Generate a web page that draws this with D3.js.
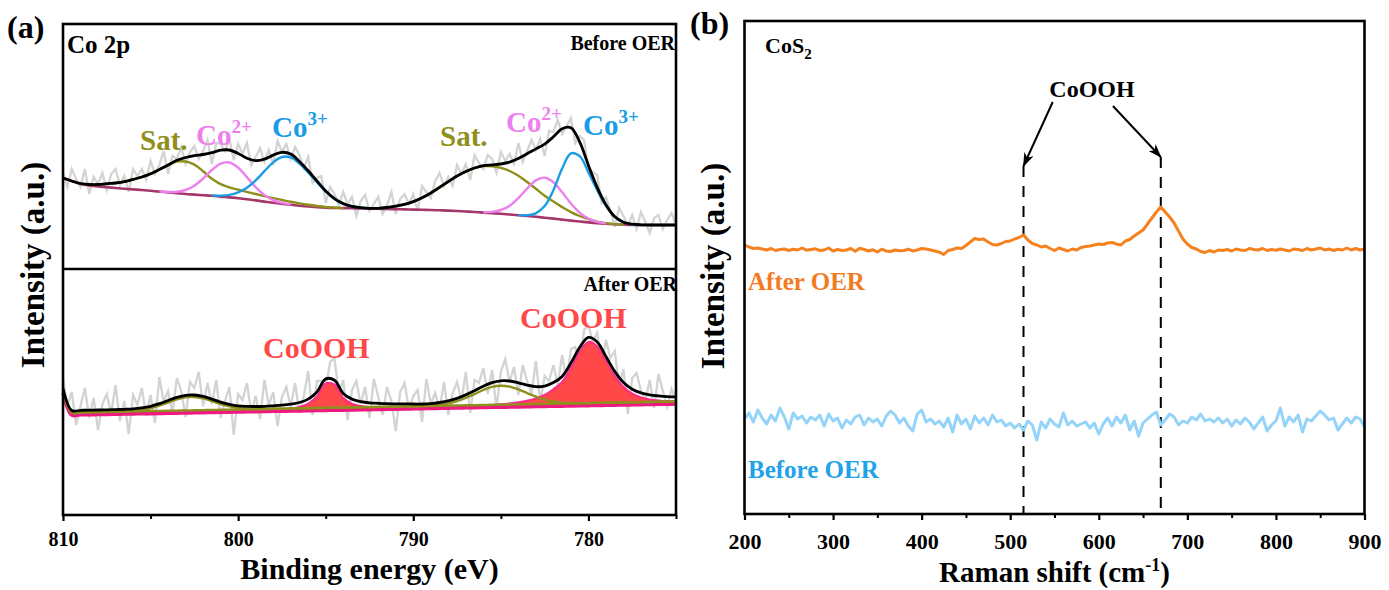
<!DOCTYPE html>
<html>
<head>
<meta charset="utf-8">
<script src="https://cdn.jsdelivr.net/npm/d3@7"></script>
<style>
  body { margin: 0; background: #fff; }
  svg { display: block; }
  text { font-family: "Liberation Serif", "Times New Roman", serif; font-weight: bold; }
</style>
</head>
<body>
<svg id="chart" width="1389" height="590"></svg>
<script>
// ---------------- XPS Co 2p (panel a) ----------------
// fitted curves sampled every 0.5 eV from 810 eV down to 775 eV
const xpsStart = 810, xpsStep = 0.5;
const xpsMajorTicks = [810, 800, 790, 780];
const xpsMinorTicks = [805, 795, 785, 775];

// Before OER: background, fitted envelope and components (height above background)
const beforeBackground = [92, 89, 86, 84.5, 83.5, 82.8, 82, 81.3, 80.6, 80,
  79.2, 78.4, 77.6, 76.8, 76, 75.4, 74.8, 74.2, 73.4, 72.6,
  71.8, 70.8, 69.6, 68.4, 67.2, 66.2, 65.2, 64.3, 63.5, 62.9,
  62.4, 62.1, 61.9, 61.7, 61.6, 61.4, 61.2, 61, 60.8, 60.6,
  60.4, 60.2, 60, 59.7, 59.4, 59, 58.5, 58, 57.4, 56.8,
  56.2, 55.5, 54.8, 54, 53.2, 52.3, 51.4, 50.4, 49.4, 48.5,
  47.6, 46.8, 46.2, 45.7, 45.3, 45.1, 45, 45, 45, 45, 45];
const beforeEnvelope = [92, 89, 86.5, 85.5, 85.5, 86.3, 87, 88.3, 90.6, 93,
  96.2, 100.5, 105, 109.7, 112.5, 114.3, 115.5, 117.3, 119.8, 120,
  116.6, 111.7, 109.3, 110.9, 114.9, 117.7, 116, 108.6, 99.2, 89,
  79, 71.4, 66.4, 63.7, 62.4, 61.7, 61.7, 62.5, 63.8, 65.6,
  68.4, 72.2, 77, 82.7, 88.4, 94, 98.5, 102, 104.3, 105.1,
  106, 107.8, 111.5, 116.2, 121.1, 125.9, 133.2, 141.3, 142.3, 128.1,
  104.6, 82.7, 65.3, 53.4, 47.8, 45.8, 45.2, 45, 45, 45, 45];
const beforeSat1From = 809;
const beforeSat1 = [0.5, 1, 2, 3.5, 5, 7, 10, 13, 17, 22, 27, 31.5, 32.5, 30, 24, 17,
  12.5, 10, 8.5, 7.3, 6.4, 5.5, 4.6, 3.8, 3, 2.3, 1.7, 1.1, 0.6, 0.3, 0];
const beforeCo2aFrom = 804.5;
const beforeCo2a = [0.1, 0.4, 1.4, 4, 8.9, 16.7, 25.8, 32.9, 34.9, 30.5, 22.1, 13.3, 6.6, 2.7, 0.9, 0.3];
const beforeCo3aFrom = 801.5;
const beforeCo3a = [0.3, 1, 2.5, 5.8, 11.5, 20, 30.4, 40.4, 46.8, 47.5, 42, 34, 25, 16, 9, 4.5, 2, 0.8, 0.3];
const beforeSat2From = 792;
const beforeSat2 = [0.5, 1.5, 3, 5, 8, 12, 17, 23, 29, 35, 40, 44, 46.5, 47, 46, 43.5, 39.5,
  34, 28, 22, 17, 12.5, 8.5, 5.5, 3.2, 1.6, 0.7, 0.2, 0];
const beforeCo2bFrom = 786;
const beforeCo2b = [0.4, 1.3, 3.8, 8.8, 17.1, 27.4, 36.4, 40, 36.4, 27.4, 17.1, 8.8, 3.8, 1.3, 0.4];
const beforeCo3bFrom = 784;
const beforeCo3b = [0.1, 0.8, 3.5, 11.6, 28.4, 51, 67.3, 65.3, 50, 33, 18, 7.5, 2.5, 0.7, 0.2];

// After OER
const afterBackground = [124, 102.0, 102.2, 102.3, 102.5, 102.6, 102.8, 103.0, 103.1, 103.3,
  103.4, 103.6, 103.8, 103.9, 104.1, 104.2, 104.4, 104.6, 104.7, 104.9,
  105.0, 105.2, 105.3, 105.5, 105.7, 105.8, 106.0, 106.1, 106.3, 106.5,
  106.6, 106.8, 106.9, 107.1, 107.3, 107.4, 107.6, 107.7, 107.9, 108.1,
  108.2, 108.4, 108.5, 108.7, 108.9, 109.0, 109.2, 109.3, 109.5, 109.7,
  109.8, 110.0, 110.1, 110.3, 110.5, 110.6, 110.8, 110.9, 111.1, 111.2,
  111.4, 111.6, 111.7, 111.9, 112.0, 112.2, 112.4, 112.5, 112.7, 112.8, 113.0];
const afterEnvelope = [128.5, 106.5, 106.7, 106.8, 107.0, 107.1, 107.4, 107.7, 108.1, 109.1,
  110.7, 113.3, 116.5, 119.6, 121.7, 122.0, 120.6, 117.9, 114.9, 112.6,
  111.1, 110.6, 110.5, 110.7, 111.2, 111.8, 112.8, 114.5, 117.9, 125.0,
  138.1, 136.8, 123.5, 117.9, 115.4, 114.2, 113.7, 113.3, 113.1, 113.2,
  113.0, 113.0, 113.4, 114.5, 116.1, 118.6, 122.1, 126.3, 130.8, 134.4,
  136.2, 136.0, 134.2, 131.9, 130.3, 130.9, 134.5, 140.6, 153.9, 169.5,
  179.6, 175.1, 160.5, 145.6, 134.5, 127.8, 124.1, 122.1, 121.1, 120.4, 120.1];
const afterSat1 = [2.5, 2.5, 2.5, 2.5, 2.5, 2.5, 2.5, 2.7, 3.0, 3.8,
  5.3, 7.7, 10.7, 13.7, 15.6, 15.8, 14.2, 11.3, 8.2, 5.7,
  4.1, 3.1, 2.7, 2.5, 2.5, 2.5, 2.5, 2.5, 2.5, 2.5,
  2.5, 2.5, 2.5, 2.5, 2.5, 2.5, 2.5, 2.5, 2.5, 2.5,
  2.5, 2.5, 2.5, 2.5, 2.5, 2.5, 2.5, 2.5, 2.5, 2.5,
  2.5, 2.5, 2.5, 2.5, 2.5, 2.5, 2.5, 2.5, 2.5, 2.5,
  2.5, 2.5, 2.5, 2.5, 2.5, 2.5, 2.5, 2.5, 2.5, 2.5, 2.5];
const afterSat2 = [2.5, 2.5, 2.5, 2.5, 2.5, 2.5, 2.5, 2.5, 2.5, 2.5,
  2.5, 2.5, 2.5, 2.5, 2.5, 2.5, 2.5, 2.5, 2.5, 2.5,
  2.5, 2.5, 2.5, 2.5, 2.5, 2.5, 2.5, 2.5, 2.5, 2.5,
  2.5, 2.5, 2.5, 2.5, 2.5, 2.5, 2.5, 2.5, 2.5, 2.5,
  2.5, 2.6, 2.9, 3.5, 4.7, 6.8, 9.8, 13.6, 17.5, 20.4,
  21.5, 20.4, 17.5, 13.6, 9.8, 6.8, 4.7, 3.5, 2.9, 2.6,
  2.5, 2.5, 2.5, 2.5, 2.5, 2.5, 2.5, 2.5, 2.5, 2.5, 2.5];
const afterCoOOH1From = 799.5;
const afterCoOOH1 = [0.3, 0.5, 0.7, 1.0, 1.5, 2.3, 3.9, 7.1, 14, 27, 25.5, 12.1, 6.3, 3.6, 2.3, 1.6, 1.1, 0.7, 0.5, 0.3];
const afterCoOOH2From = 788.5;
const afterCoOOH2 = [0.3, 0.5, 0.8, 1.1, 1.4, 1.8, 2.3, 2.9, 3.6, 4.6, 6, 8, 11.5, 17,
  24.2, 37.9, 53.7, 63.7, 59, 44.3, 29.2, 18, 11.1, 7.2, 5.1, 3.9, 3.1, 2.6];

// measured spectra, every 0.25 eV from 810 eV
const rawStep = 0.25;
const beforeRaw = [97, 83, 101, 91, 83, 101, 76, 93, 86, 97,
  80, 96, 101, 85, 94, 78, 101, 94, 101, 90,
  109, 96, 105, 119, 96, 114, 111, 123, 106, 118,
  124, 111, 119, 130, 106, 127, 126, 119, 131, 110,
  126, 116, 127, 105, 113, 122, 108, 120, 105, 129,
  118, 126, 111, 123, 115, 102, 113, 87, 92, 94,
  67, 83, 76, 65, 78, 66, 73, 54, 69, 75,
  59, 66, 73, 56, 65, 78, 56, 71, 76, 66,
  76, 59, 84, 78, 72, 89, 97, 84, 93, 84,
  105, 96, 106, 90, 115, 107, 101, 115, 111, 97,
  118, 109, 116, 106, 127, 108, 119, 130, 120, 131,
  114, 139, 138, 150, 136, 144, 152, 127, 134, 130,
  102, 98, 95, 67, 73, 60, 43, 62, 54, 45,
  55, 41, 58, 48, 37, 52, 55, 41, 50, 57, 45];
const afterRaw = [139, 111, 125, 92, 111, 129, 99, 119, 87, 113,
  123, 103, 132, 96, 116, 83, 122, 112, 129, 101,
  122, 94, 140, 115, 126, 104, 139, 126, 100, 135,
  129, 145, 111, 134, 113, 137, 99, 116, 130, 82,
  123, 117, 134, 104, 121, 98, 137, 112, 125, 91,
  120, 130, 110, 134, 104, 121, 146, 102, 136, 136,
  129, 155, 159, 124, 137, 97, 127, 136, 113, 130,
  99, 138, 120, 102, 130, 116, 86, 125, 134, 108,
  121, 127, 95, 138, 113, 124, 107, 135, 102, 124,
  135, 116, 145, 104, 137, 134, 149, 123, 147, 109,
  145, 158, 135, 150, 122, 152, 136, 123, 156, 115,
  141, 136, 152, 132, 162, 136, 168, 170, 148, 187,
  192, 175, 184, 151, 177, 159, 166, 131, 148, 103,
  139, 144, 126, 116, 137, 109, 143, 126, 110, 128, 116];

// ---------------- Raman (panel b) ----------------
const ramanStart = 200, ramanStep = 5;
const ramanMajorTicks = [200, 300, 400, 500, 600, 700, 800, 900];
const ramanMinorTicks = [250, 350, 450, 550, 650, 750, 850];
const ramanAfter = [269, 267, 265.5, 266, 265, 264, 265.5, 263.5, 264.5, 265,
  263.5, 264.8, 264, 266, 263.8, 264.5, 265.2, 263.5, 264, 266,
  263, 264.5, 263.5, 264, 265.5, 262.8, 265.8, 264.5, 263, 264.2,
  262, 264.8, 263, 262.5, 264, 263.2, 263.5, 264.8, 263, 264,
  265.5, 265, 264, 263, 261.8, 259.5, 263.5, 264.5, 266, 265.5,
  268.5, 272, 275.5, 274.5, 275, 272, 269.5, 269, 270.5, 272.5,
  273, 275, 276.5, 279, 274, 270.5, 269, 267, 268, 265.5,
  263.5, 266, 264.5, 263, 265, 264, 266.5, 267.5, 268, 269,
  270, 269.5, 271, 271.5, 270, 269, 273, 274.5, 278, 281,
  284, 290, 296, 302, 307, 302, 297, 291, 283, 275,
  270, 266.5, 265, 262.5, 261.5, 263.5, 262, 264, 263.5, 264.5,
  263, 265, 264, 263.5, 265.5, 264.5, 264, 265.5, 263.5, 264.5,
  263.8, 265, 264, 263, 265, 264.5, 263.5, 265.5, 264, 265,
  266, 264, 265, 263.5, 264.8, 264, 266, 264, 265.5, 264, 265];
const ramanBefore = [95, 101, 92, 104, 96, 90, 99, 93, 106, 97,
  85, 101, 95, 98, 91, 97, 94, 99, 88, 100,
  93, 96, 86, 94, 90, 97, 99, 89, 96, 92,
  95, 88, 98, 103, 99, 91, 96, 88, 83, 100,
  104, 92, 95, 90, 93, 87, 96, 82, 99, 90,
  95, 85, 98, 91, 96, 89, 99, 92, 94, 88,
  91, 86, 90, 84, 93, 89, 74, 92, 86, 95,
  90, 87, 101, 89, 93, 88, 90, 92, 86, 91,
  80, 90, 96, 88, 97, 91, 99, 84, 93, 78,
  91, 95, 99, 102, 89, 94, 100, 97, 89, 93,
  91, 97, 94, 100, 93, 95, 92, 96, 91, 95,
  88, 94, 90, 96, 92, 85, 91, 97, 83, 89,
  93, 106, 88, 97, 92, 99, 82, 95, 93, 98,
  103, 99, 94, 96, 84, 90, 96, 91, 97, 95, 87];
// CoOOH band positions and the arrows pointing at them (Raman shift, intensity)
const coohBands = [515, 670];
const arrowTails = [[548, 412], [616, 408]];
const arrowTips = [[515, 348], [670, 357]];

// ---------------- drawing ----------------
const svg = d3.select("#chart");
const C = {
  raw: "#d3d3d3", env: "#000", bgTop: "#a5376c", bgBottom: "#ee1a82",
  sat: "#8f8f1c", co2: "#ee80ee", co3: "#1a9de6", cooh: "#ff4848", coohEdge: "#ff2a8a",
  after: "#f5821f", afterText: "#f47a1f", before: "#94d4f8", beforeText: "#22a2e8"
};

const defs = svg.append("defs");
defs.append("marker").attr("id", "arrowHead")
  .attr("viewBox", "0 0 14 10").attr("refX", 13).attr("refY", 5)
  .attr("markerWidth", 14).attr("markerHeight", 10)
  .attr("markerUnits", "userSpaceOnUse").attr("orient", "auto")
  .append("path").attr("d", "M0,0 L14,5 L0,10 L4,5 Z").attr("fill", "#000");

// --- panel (a) scales ---
const xA = d3.scaleLinear().domain([810, 775]).range([63, 676]);
const yTop = d3.scaleLinear().domain([1, 246]).range([269, 24]);
const yBot = d3.scaleLinear().domain([2, 247]).range([515, 270]);
const smooth = d3.curveCatmullRom.alpha(0.5);

const gridE = (i, start, step) => start - step * i;
const bgIndex = e => Math.round((xpsStart - e) / xpsStep);

function fullCurve(values) { return values.map((v, i) => [gridE(i, xpsStart, xpsStep), v]); }
function onBackground(values, from, bg) {
  return values.map((v, i) => { const e = gridE(i, from, xpsStep); const b = bg[bgIndex(e)]; return [e, b + v, b]; });
}
function rawCurve(values) { return values.map((v, i) => [gridE(i, xpsStart, rawStep), v]); }

const gA = svg.append("g");
const lineTop = d3.line().x(d => xA(d[0])).y(d => yTop(d[1])).curve(smooth);
const lineBot = d3.line().x(d => xA(d[0])).y(d => yBot(d[1])).curve(smooth);
const rawTop = d3.line().x(d => xA(d[0])).y(d => yTop(d[1]));
const rawBot = d3.line().x(d => xA(d[0])).y(d => yBot(d[1]));

// upper: before OER
gA.append("path").attr("d", rawTop(rawCurve(beforeRaw))).attr("fill", "none").attr("stroke", C.raw).attr("stroke-width", 2.3);
gA.append("path").attr("d", lineTop(fullCurve(beforeBackground))).attr("fill", "none").attr("stroke", C.bgTop).attr("stroke-width", 2.6);
[[beforeSat1, beforeSat1From, C.sat], [beforeCo2a, beforeCo2aFrom, C.co2], [beforeCo3a, beforeCo3aFrom, C.co3],
 [beforeSat2, beforeSat2From, C.sat], [beforeCo2b, beforeCo2bFrom, C.co2], [beforeCo3b, beforeCo3bFrom, C.co3]]
  .forEach(([vals, from, col]) => {
    gA.append("path").attr("d", lineTop(onBackground(vals, from, beforeBackground)))
      .attr("fill", "none").attr("stroke", col).attr("stroke-width", 2.4);
  });
gA.append("path").attr("d", lineTop(fullCurve(beforeEnvelope))).attr("fill", "none").attr("stroke", C.env).attr("stroke-width", 2.8);

// lower: after OER
gA.append("path").attr("d", rawBot(rawCurve(afterRaw))).attr("fill", "none").attr("stroke", C.raw).attr("stroke-width", 2.3);
const areaBot = d3.area().x(d => xA(d[0])).y0(d => yBot(d[2])).y1(d => yBot(d[1])).curve(smooth);
[[afterCoOOH1, afterCoOOH1From], [afterCoOOH2, afterCoOOH2From]].forEach(([vals, from]) => {
  const pts = onBackground(vals, from, afterBackground);
  gA.append("path").attr("d", areaBot(pts)).attr("fill", C.cooh).attr("stroke", "none");
  gA.append("path").attr("d", lineBot(pts)).attr("fill", "none").attr("stroke", C.coohEdge).attr("stroke-width", 2);
});
gA.append("path").attr("d", lineBot(fullCurve(afterBackground))).attr("fill", "none").attr("stroke", C.bgBottom).attr("stroke-width", 3.6);
[afterSat1, afterSat2].forEach(vals => {
  gA.append("path").attr("d", lineBot(onBackground(vals, xpsStart, afterBackground)))
    .attr("fill", "none").attr("stroke", C.sat).attr("stroke-width", 2.4);
});
gA.append("path").attr("d", lineBot(fullCurve(afterEnvelope))).attr("fill", "none").attr("stroke", C.env).attr("stroke-width", 2.8);

// frame and divider
gA.append("rect").attr("x", 63).attr("y", 24).attr("width", 613).attr("height", 491)
  .attr("fill", "none").attr("stroke", "#000").attr("stroke-width", 2.6);
gA.append("line").attr("x1", 63).attr("x2", 676).attr("y1", 269).attr("y2", 269).attr("stroke", "#000").attr("stroke-width", 2.6);

function bottomAxis(g, scale, major, minor, y, fontSize, labelY) {
  const gMaj = g.append("g").attr("transform", `translate(0,${y})`)
    .call(d3.axisBottom(scale).tickValues(major).tickSize(6).tickSizeOuter(0).tickFormat(d3.format("d")));
  gMaj.select(".domain").remove();
  gMaj.selectAll("line").attr("stroke", "#000").attr("stroke-width", 2.2);
  gMaj.selectAll("text").attr("dy", null).attr("y", labelY - y).attr("fill", "#000")
    .style("font-size", fontSize + "px").style("font-family", "Liberation Serif").style("font-weight", "bold");
  const gMin = g.append("g").attr("transform", `translate(0,${y})`)
    .call(d3.axisBottom(scale).tickValues(minor).tickSize(4).tickSizeOuter(0).tickFormat(""));
  gMin.select(".domain").remove();
  gMin.selectAll("line").attr("stroke", "#000").attr("stroke-width", 2);
}
bottomAxis(gA, xA, xpsMajorTicks, xpsMinorTicks, 515, 20, 546);

function label(g, x, y, size, color, anchor) {
  return g.append("text").attr("x", x).attr("y", y).attr("fill", color)
    .attr("text-anchor", anchor || "start").style("font-size", size + "px");
}
function ionLabel(g, x, y, size, color, base, charge) {
  const t = label(g, x, y, size, color);
  t.append("tspan").text(base);
  t.append("tspan").attr("dy", -size * 0.42).style("font-size", (size * 0.66) + "px").text(charge);
}

label(gA, 7, 38, 32, "#000").text("(a)");
label(gA, 67, 53, 25, "#000").text("Co 2p");
label(gA, 675, 50, 20, "#000", "end").text("Before OER");
label(gA, 677, 291, 20, "#000", "end").text("After OER");
label(gA, 140, 150, 29, C.sat).text("Sat.");
ionLabel(gA, 196, 145, 29, C.co2, "Co", "2+");
ionLabel(gA, 272, 137, 29, C.co3, "Co", "3+");
label(gA, 440, 146, 29, C.sat).text("Sat.");
ionLabel(gA, 506, 132, 29, C.co2, "Co", "2+");
ionLabel(gA, 583, 135, 29, C.co3, "Co", "3+");
label(gA, 263, 358, 30, C.cooh).text("CoOOH");
label(gA, 520, 328, 30, C.cooh).text("CoOOH");
label(gA, 369.5, 579, 30, "#000", "middle").text("Binding energy (eV)");
label(gA, 0, 0, 33, "#000", "middle").attr("transform", "translate(44,265) rotate(-90)").text("Intensity (a.u.)");

// --- panel (b) ---
const gB = svg.append("g");
const xB = d3.scaleLinear().domain([200, 900]).range([744.5, 1364.5]);
const yB = d3.scaleLinear().domain([0, 493]).range([514, 21]);
const ramanLine = d3.line().x(d => xB(d[0])).y(d => yB(d[1]));
const ramanPts = vals => vals.map((v, i) => [ramanStart + ramanStep * i, v]);

coohBands.forEach((s, i) => {
  gB.append("line").attr("x1", xB(s)).attr("x2", xB(s)).attr("y1", yB(arrowTips[i][1])).attr("y2", yB(0))
    .attr("stroke", "#000").attr("stroke-width", 2).attr("stroke-dasharray", "11,9");
});
gB.append("path").attr("d", ramanLine(ramanPts(ramanBefore))).attr("fill", "none")
  .attr("stroke", C.before).attr("stroke-width", 3).attr("stroke-linejoin", "round");
gB.append("path").attr("d", ramanLine(ramanPts(ramanAfter))).attr("fill", "none")
  .attr("stroke", C.after).attr("stroke-width", 3).attr("stroke-linejoin", "round");
arrowTails.forEach((t, i) => {
  gB.append("line").attr("x1", xB(t[0])).attr("y1", yB(t[1]))
    .attr("x2", xB(arrowTips[i][0])).attr("y2", yB(arrowTips[i][1]))
    .attr("stroke", "#000").attr("stroke-width", 2).attr("marker-end", "url(#arrowHead)");
});
gB.append("rect").attr("x", 744.5).attr("y", 21).attr("width", 620).attr("height", 493)
  .attr("fill", "none").attr("stroke", "#000").attr("stroke-width", 2.6);
bottomAxis(gB, xB, ramanMajorTicks, ramanMinorTicks, 514, 22, 549);

label(gB, 690, 34, 32, "#000").text("(b)");
const cos2 = label(gB, 765, 53, 22, "#000");
cos2.append("tspan").text("CoS");
cos2.append("tspan").attr("dy", 6).style("font-size", "15px").text("2");
label(gB, 1092, 97, 24, "#000", "middle").text("CoOOH");
label(gB, 748, 290, 25, C.afterText).text("After OER");
label(gB, 748, 478, 25, C.beforeText).text("Before OER");
const rs = label(gB, 1054.5, 582, 29, "#000", "middle");
rs.append("tspan").text("Raman shift (cm");
rs.append("tspan").attr("dy", -11).style("font-size", "18px").text("-1");
rs.append("tspan").attr("dy", 11).text(")");
label(gB, 0, 0, 33, "#000", "middle").attr("transform", "translate(724,266) rotate(-90)").text("Intensity (a.u.)");
</script>
</body>
</html>
